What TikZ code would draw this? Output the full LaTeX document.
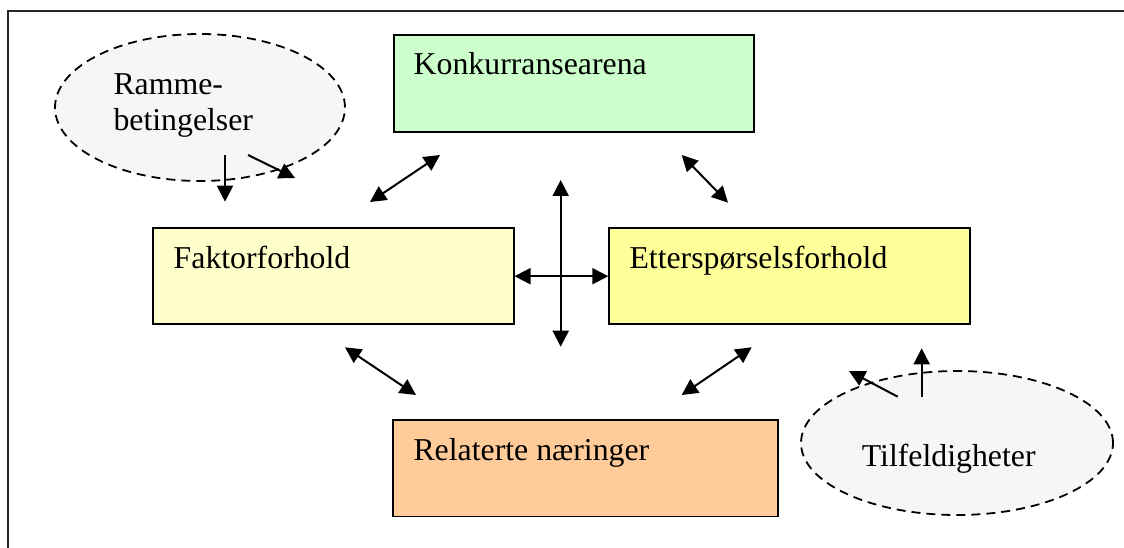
\documentclass[tikz,border=0pt]{standalone}
\usepackage{fontspec}
\setmainfont{Liberation Serif}
\usetikzlibrary{arrows.meta,shapes.geometric}
\definecolor{arenagreen}{HTML}{CCFFCC}
\definecolor{factoryellow}{HTML}{FFFFCC}
\definecolor{demandyellow}{HTML}{FFFF99}
\definecolor{relatedorange}{HTML}{FFCC99}
\definecolor{cloudgrey}{HTML}{F6F6F6}
\begin{document}
\begin{tikzpicture}[x=1pt,y=-1pt,
  box/.style={draw=black,line width=1.8pt,rectangle,anchor=north west,inner sep=0pt},
  cloud/.style={draw=black,line width=1.8pt,dash pattern=on 9pt off 6pt,ellipse,fill=cloudgrey,inner sep=0pt},
  lbl/.style={anchor=base west,inner sep=0pt,font=\fontsize{31.8}{36.5}\selectfont},
  tip/.style={Triangle[length=16pt,width=16pt]},
  link/.style={line width=2pt,{Triangle[length=16pt,width=16pt]}-{Triangle[length=16pt,width=16pt]}},
  push/.style={line width=2pt,-{Triangle[length=16pt,width=16pt]}}]
\clip (0,0) rectangle (1124,548);

% outer frame (top and left edges)
\draw[line width=2.2pt,black!85] (8,560) -- (8,11) -- (1140,11);

% the four determinants
\node[box,fill=arenagreen,minimum width=360pt,minimum height=97pt] (konk) at (392.7,34) {};
\node[lbl] (konkT) at (413.5,75) {Konkurransearena};

\node[box,fill=factoryellow,minimum width=360.4pt,minimum height=96pt] (faktor) at (152.3,227.3) {};
\node[lbl] (faktorT) at (173.5,268.5) {Faktorforhold};

\node[box,fill=demandyellow,minimum width=361pt,minimum height=96pt] (etter) at (608.3,227.3) {};
\node[lbl] (etterT) at (629.3,268.5) {Etterspørselsforhold};

\node[box,fill=relatedorange,minimum width=384.4pt,minimum height=96.2pt] (relat) at (392.3,419.3) {};
\node[lbl] (relatT) at (413.3,460) {Relaterte næringer};

% outside influences
\node[cloud,minimum width=290pt,minimum height=147pt] (ramme) at (200,107.5) {};
\node[lbl] (rammeA) at (113.3,94.5) {Ramme-};
\node[lbl] (rammeB) at (113.3,131) {betingelser};

\node[cloud,minimum width=312pt,minimum height=144pt] (tilf) at (957,443) {};
\node[lbl] (tilfT) at (861.7,466.7) {Tilfeldigheter};

% connector end points
\coordinate (rdA) at (225,155);     \coordinate (rdB) at (225,201.7);
\coordinate (rgA) at (248,155);     \coordinate (rgB) at (295,178);
\coordinate (kfA) at (370,202);     \coordinate (kfB) at (440,155);
\coordinate (keA) at (681.7,155);   \coordinate (keB) at (728,202.7);
\coordinate (vA) at (560.7,180);    \coordinate (vB) at (560.7,346.7);
\coordinate (frA) at (345,347.3);   \coordinate (frB) at (416,395);
\coordinate (erA) at (751.7,347.3); \coordinate (erB) at (681.7,395);
\coordinate (tgA) at (897.7,396.7); \coordinate (tgB) at (849,371);
\coordinate (tuA) at (921.7,396.7); \coordinate (tuB) at (921.7,348.3);

% interactions
\draw[link] (kfA) -- (kfB);
\draw[link] (keA) -- (keB);
\draw[link] (vA) -- (vB);
\draw[link] (faktor.east) -- (etter.west);
\draw[link] (frA) -- (frB);
\draw[link] (erA) -- (erB);

% influences from outside
\draw[push] (rdA) -- (rdB);
\draw[push] (rgA) -- (rgB);
\draw[push] (tgA) -- (tgB);
\draw[push] (tuA) -- (tuB);
\end{tikzpicture}
\end{document}
